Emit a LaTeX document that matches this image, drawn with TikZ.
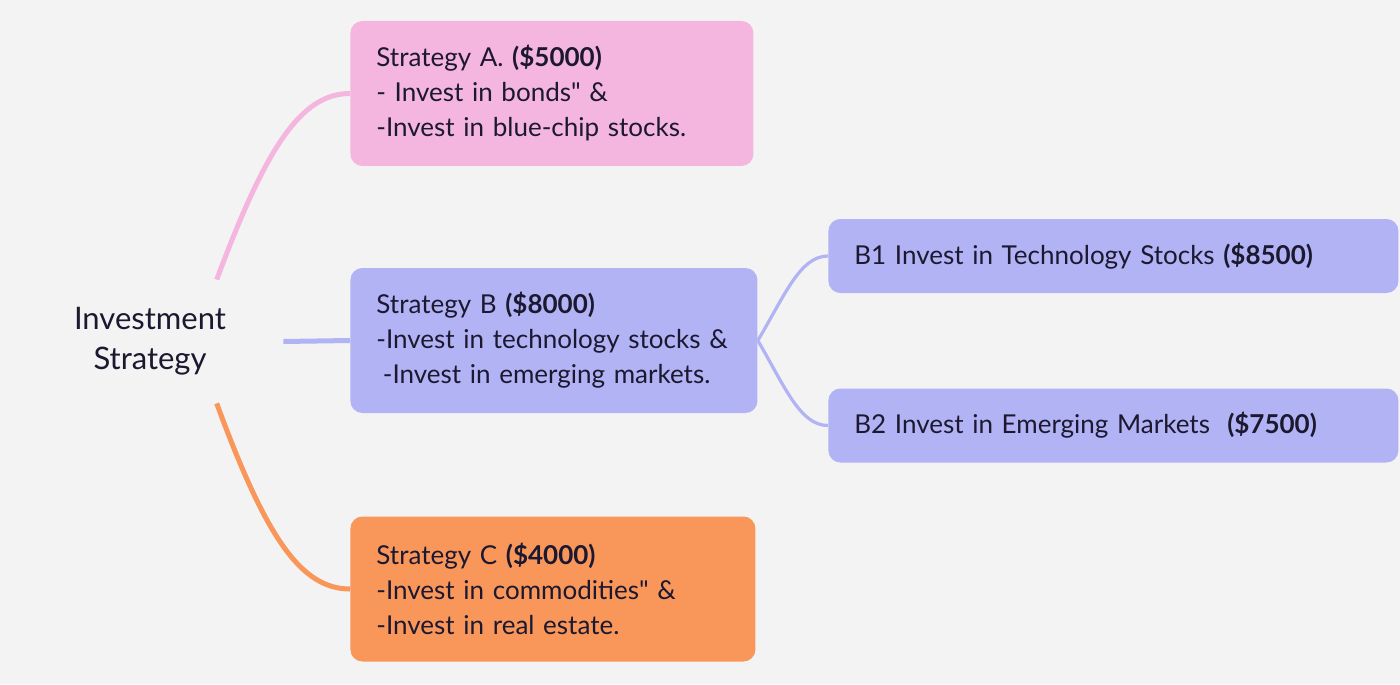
\documentclass[tikz,border=0pt]{standalone}
\usepackage{fontspec}
\setmainfont{Lato}
\usepackage{tikz}
\usetikzlibrary{calc}
\definecolor{bgGray}{HTML}{F3F3F3}
\definecolor{pinkA}{HTML}{F4B6DF}
\definecolor{blueB}{HTML}{B1B3F4}
\definecolor{orangeC}{HTML}{F9975B}
\definecolor{inkText}{HTML}{1C1830}

\begin{document}
\begin{tikzpicture}[x=0.5pt, y=-0.5pt,
    root_node/.style={rectangle, minimum width=133pt, minimum height=61.5pt, inner sep=0pt, align=center, text=inkText, font=\fontsize{15.5}{20}\selectfont},
    box_node/.style={rectangle, rounded corners=6pt, anchor=west, inner xsep=13pt, inner ysep=0pt, align=left, text=inkText, font=\fontsize{13}{17.5}\selectfont},
    big_box/.style={box_node, minimum height=72.5pt},
    sub_box/.style={box_node, fill=blueB, minimum width=285pt, text width=259pt, minimum height=37pt},
    main_link/.style={draw, line width=2.5pt},
    sub_link/.style={draw, line width=1.6pt, blueB}
]

% background and page size
\fill[bgGray] (0,0) rectangle (1400,684);
\useasboundingbox (0,0) rectangle (1400,684);

% nodes
\node[root_node] (root) at (150,341.5) {Investment\\Strategy};
\node[big_box, fill=pinkA, minimum width=201.5pt, text width=175.5pt] (a) at (350,93.5)
    {Strategy A. \textbf{(\$5000)}\\- Invest in bonds\textquotedbl{} \&\\-Invest in blue-chip stocks.};
\node[big_box, fill=blueB, minimum width=203.5pt, text width=177.5pt] (b) at (350,340.5)
    {Strategy B \textbf{(\$8000)}\\-Invest in technology stocks \&\\\hspace{0.25em}-Invest in emerging markets.};
\node[big_box, fill=orangeC, minimum width=202.5pt, text width=176.5pt] (c) at (350,589)
    {Strategy C \textbf{(\$4000)}\\-Invest in commodities\textquotedbl{} \&\\-Invest in real estate.};
\node[sub_box] (b1) at (828,256) {B1 Invest in Technology Stocks \textbf{(\$8500)}};
\node[sub_box] (b2) at (828,425.5) {B2 Invest in Emerging Markets\ \ \textbf{(\$7500)}};

% links
\path[main_link, pinkA] ($(root.north)!0.5!(root.north east)$) .. controls (265,150) and (300,93.5) .. (a.west);
\path[main_link, blueB] (root.east) -- (b.west);
\path[main_link, orangeC] ($(root.south)!0.5!(root.south east)$) .. controls (265,535) and (300,589) .. (c.west);
\path[sub_link] (b.east) .. controls (785,295) and (800,256) .. (b1.west);
\path[sub_link] (b.east) .. controls (785,387) and (800,425.5) .. (b2.west);

\end{tikzpicture}
\end{document}
